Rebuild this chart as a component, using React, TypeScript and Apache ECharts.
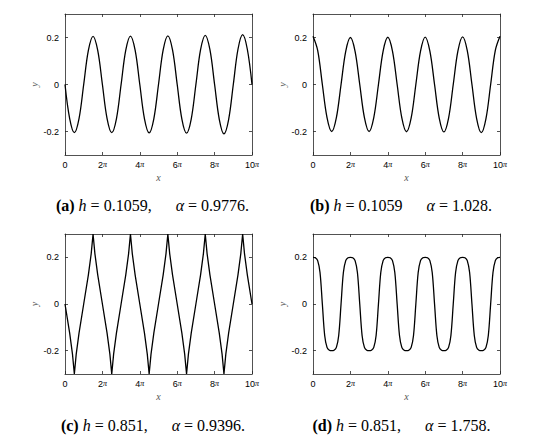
import React, { useEffect, useRef } from 'react';
import * as echarts from 'echarts';

// ---- tick labels ----
const xTickValues = [0, 2, 4, 6, 8, 10]; // in units of π
const xTickLabels = ['0', '2', '4', '6', '8', '10'];
const yTickValues = [-0.2, 0, 0.2];
const yTickLabels = ['-0.2', '0', '0.2'];

// ---- panel (a) & (b): x sampled every π/4 (units of π) ----
const xQuarter = [
  0, 0.25, 0.5, 0.75, 1, 1.25, 1.5, 1.75,
  2, 2.25, 2.5, 2.75, 3, 3.25, 3.5, 3.75,
  4, 4.25, 4.5, 4.75, 5, 5.25, 5.5, 5.75,
  6, 6.25, 6.5, 6.75, 7, 7.25, 7.5, 7.75,
  8, 8.25, 8.5, 8.75, 9, 9.25, 9.5, 9.75,
  10,
];
const seriesA = [
  0, -0.145, -0.205, -0.145, 0, 0.145, 0.205, 0.145,
  0, -0.145, -0.205, -0.146, 0, 0.146, 0.206, 0.146,
  0, -0.146, -0.206, -0.146, 0, 0.147, 0.207, 0.147,
  0, -0.147, -0.207, -0.147, 0, 0.148, 0.209, 0.148,
  0, -0.148, -0.21, -0.149, 0, 0.15, 0.212, 0.15,
  0,
];
const seriesB = [
  0.205, 0.145, 0, -0.141, -0.2, -0.141, 0, 0.141,
  0.2, 0.141, 0, -0.141, -0.2, -0.141, 0, 0.142,
  0.201, 0.142, 0, -0.142, -0.201, -0.142, 0, 0.142,
  0.202, 0.142, 0, -0.143, -0.202, -0.143, 0, 0.143,
  0.203, 0.144, 0, -0.145, -0.205, -0.145, 0, 0.145,
  0.205,
];

// ---- panel (c): cusped wave ----
const xC = [
  0, 0.25, 0.4, 0.5, 0.6, 0.75, 1, 1.25, 1.4, 1.5, 1.6, 1.75,
  2, 2.25, 2.4, 2.5, 2.6, 2.75, 3, 3.25, 3.4, 3.5, 3.6, 3.75,
  4, 4.25, 4.4, 4.5, 4.6, 4.75, 5, 5.25, 5.4, 5.5, 5.6, 5.75,
  6, 6.25, 6.4, 6.5, 6.6, 6.75, 7, 7.25, 7.4, 7.5, 7.6, 7.75,
  8, 8.25, 8.4, 8.5, 8.6, 8.75, 9, 9.25, 9.4, 9.5, 9.6, 9.75,
  10,
];
const seriesC = [
  0, -0.125, -0.215, -0.3, -0.215, -0.125, 0, 0.125, 0.215, 0.3, 0.215, 0.125,
  0, -0.125, -0.215, -0.3, -0.215, -0.125, 0, 0.125, 0.215, 0.3, 0.215, 0.125,
  0, -0.125, -0.215, -0.3, -0.215, -0.125, 0, 0.125, 0.215, 0.3, 0.215, 0.125,
  0, -0.125, -0.215, -0.3, -0.215, -0.125, 0, 0.125, 0.215, 0.3, 0.215, 0.125,
  0, -0.125, -0.215, -0.3, -0.215, -0.125, 0, 0.125, 0.215, 0.3, 0.215, 0.125,
  0,
];

// ---- panel (d): flat-topped wave, x sampled every π/8 ----
const xEighth = [
  0, 0.125, 0.25, 0.375, 0.5, 0.625, 0.75, 0.875,
  1, 1.125, 1.25, 1.375, 1.5, 1.625, 1.75, 1.875,
  2, 2.125, 2.25, 2.375, 2.5, 2.625, 2.75, 2.875,
  3, 3.125, 3.25, 3.375, 3.5, 3.625, 3.75, 3.875,
  4, 4.125, 4.25, 4.375, 4.5, 4.625, 4.75, 4.875,
  5, 5.125, 5.25, 5.375, 5.5, 5.625, 5.75, 5.875,
  6, 6.125, 6.25, 6.375, 6.5, 6.625, 6.75, 6.875,
  7, 7.125, 7.25, 7.375, 7.5, 7.625, 7.75, 7.875,
  8, 8.125, 8.25, 8.375, 8.5, 8.625, 8.75, 8.875,
  9, 9.125, 9.25, 9.375, 9.5, 9.625, 9.75, 9.875,
  10,
];
const seriesD = [
  0.2, 0.198, 0.186, 0.135, 0, -0.135, -0.186, -0.198,
  -0.2, -0.198, -0.186, -0.135, 0, 0.135, 0.186, 0.198,
  0.2, 0.198, 0.186, 0.135, 0, -0.135, -0.186, -0.198,
  -0.2, -0.198, -0.186, -0.135, 0, 0.135, 0.186, 0.198,
  0.2, 0.198, 0.186, 0.135, 0, -0.135, -0.186, -0.198,
  -0.2, -0.198, -0.186, -0.135, 0, 0.135, 0.186, 0.198,
  0.2, 0.198, 0.186, 0.135, 0, -0.135, -0.186, -0.198,
  -0.2, -0.198, -0.186, -0.135, 0, 0.135, 0.186, 0.198,
  0.2, 0.198, 0.186, 0.135, 0, -0.135, -0.186, -0.198,
  -0.2, -0.198, -0.186, -0.135, 0, 0.135, 0.186, 0.198,
  0.2,
];

// ---- captions ----
const panelLabels = ['(a)', '(b)', '(c)', '(d)'];
const hValues = ['0.1059,', '0.1059', '0.851,', '0.851,'];
const alphaValues = ['0.9776.', '1.028.', '0.9396.', '1.758.'];

const AXIS_COLOR = '#262626';
const CAPTION_SIZE = 16;

const grids = [
  { left: 65, top: 14, width: 187, height: 141 },
  { left: 313, top: 14, width: 187, height: 141 },
  { left: 65, top: 234, width: 187, height: 140 },
  { left: 313, top: 234, width: 187, height: 140 },
];
const captionPos = [
  { x: 152.5, y: 205 },
  { x: 401, y: 205 },
  { x: 153, y: 425 },
  { x: 401.5, y: 425 },
];

function zip(xs: number[], ys: number[]) {
  return xs.map((x, i) => [x, ys[i]]);
}

export default function App() {
  const ref = useRef<HTMLDivElement>(null);
  useEffect(() => {
    if (!ref.current) return;
    const chart = echarts.init(ref.current, undefined, { renderer: 'svg' });

    const xAxes: any[] = [];
    const yAxes: any[] = [];
    grids.forEach((_, g) => {
      xAxes.push({
        type: 'value',
        gridIndex: g,
        position: 'bottom',
        min: 0,
        max: 10,
        axisLine: { show: true, onZero: false, lineStyle: { color: AXIS_COLOR, width: 0.8 } },
        axisTick: { show: true, inside: true, length: 3, customValues: xTickValues, lineStyle: { color: AXIS_COLOR, width: 0.8 } },
        axisLabel: {
          customValues: xTickValues,
          margin: 5,
          fontSize: 9,
          fontFamily: 'Liberation Sans',
          color: '#000',
          formatter: (v: number) => {
            const i = xTickValues.indexOf(v);
            const t = i >= 0 ? xTickLabels[i] : String(v);
            return v === 0 ? t : `{n|${t}}{p|π}`;
          },
          rich: {
            n: { fontSize: 9, fontFamily: 'Liberation Sans', color: '#000' },
            p: { fontSize: 8, fontFamily: 'Liberation Serif', fontStyle: 'italic', color: '#000' },
          },
        },
        splitLine: { show: false },
        name: 'x',
        nameLocation: 'middle',
        nameGap: 17,
        nameTextStyle: { fontFamily: 'Liberation Serif', fontStyle: 'italic', fontSize: 10, color: '#555' },
      });
      xAxes.push({
        type: 'value',
        gridIndex: g,
        position: 'top',
        min: 0,
        max: 10,
        axisLine: { show: true, onZero: false, lineStyle: { color: AXIS_COLOR, width: 0.8 } },
        axisTick: { show: true, inside: true, length: 3, customValues: xTickValues, lineStyle: { color: AXIS_COLOR, width: 0.8 } },
        axisLabel: { show: false },
        splitLine: { show: false },
      });
      yAxes.push({
        type: 'value',
        gridIndex: g,
        position: 'left',
        min: -0.3,
        max: 0.3,
        axisLine: { show: true, onZero: false, lineStyle: { color: AXIS_COLOR, width: 0.8 } },
        axisTick: { show: true, inside: true, length: 3, customValues: yTickValues, lineStyle: { color: AXIS_COLOR, width: 0.8 } },
        axisLabel: {
          customValues: yTickValues,
          margin: 6,
          fontSize: 9,
          fontFamily: 'Liberation Sans',
          color: '#000',
          formatter: (v: number) => {
            const i = yTickValues.findIndex((t) => Math.abs(t - v) < 1e-9);
            return i >= 0 ? yTickLabels[i] : '';
          },
        },
        splitLine: { show: false },
        name: 'y',
        nameLocation: 'middle',
        nameGap: 24,
        nameTextStyle: { fontFamily: 'Liberation Serif', fontStyle: 'italic', fontSize: 10, color: '#555' },
      });
      yAxes.push({
        type: 'value',
        gridIndex: g,
        position: 'right',
        min: -0.3,
        max: 0.3,
        axisLine: { show: true, onZero: false, lineStyle: { color: AXIS_COLOR, width: 0.8 } },
        axisTick: { show: true, inside: true, length: 3, customValues: yTickValues, lineStyle: { color: AXIS_COLOR, width: 0.8 } },
        axisLabel: { show: false },
        splitLine: { show: false },
      });
    });

    const datasets = [
      { data: zip(xQuarter, seriesA), smooth: 0.35 },
      { data: zip(xQuarter, seriesB), smooth: 0.35 },
      { data: zip(xC, seriesC), smooth: false },
      { data: zip(xEighth, seriesD), smooth: 0.35 },
    ];

    const series = datasets.map((d, g) => ({
      type: 'line',
      xAxisIndex: g * 2,
      yAxisIndex: g * 2,
      data: d.data,
      smooth: d.smooth,
      showSymbol: false,
      symbol: 'none',
      clip: true,
      lineStyle: { color: '#000', width: 1.3 },
    }));

    const graphics = captionPos.map((p, i) => ({
      type: 'text',
      x: p.x,
      y: p.y,
      style: {
        text: `{b|${panelLabels[i]}} {i|h} = ${hValues[i]}{a|α} = ${alphaValues[i]}`,
        textAlign: 'center',
        textVerticalAlign: 'middle',
        fontFamily: 'Liberation Serif',
        fontSize: CAPTION_SIZE,
        fill: '#000',
        rich: {
          b: { fontFamily: 'Liberation Serif', fontWeight: 'bold', fontSize: CAPTION_SIZE, fill: '#000' },
          i: { fontFamily: 'Liberation Serif', fontStyle: 'italic', fontSize: CAPTION_SIZE, fill: '#000' },
          a: { fontFamily: 'Liberation Serif', fontStyle: 'italic', fontSize: CAPTION_SIZE, fill: '#000', padding: [0, 0, 0, 24] },
        },
      },
    }));

    chart.setOption({
      animation: false,
      backgroundColor: '#fff',
      grid: grids.map((g) => ({ ...g, containLabel: false })),
      xAxis: xAxes,
      yAxis: yAxes,
      series,
      graphic: graphics,
    });
    return () => chart.dispose();
  }, []);
  return <div ref={ref} style={{ position: 'fixed', left: 0, top: 0, width: 533, height: 442 }} />;
}
